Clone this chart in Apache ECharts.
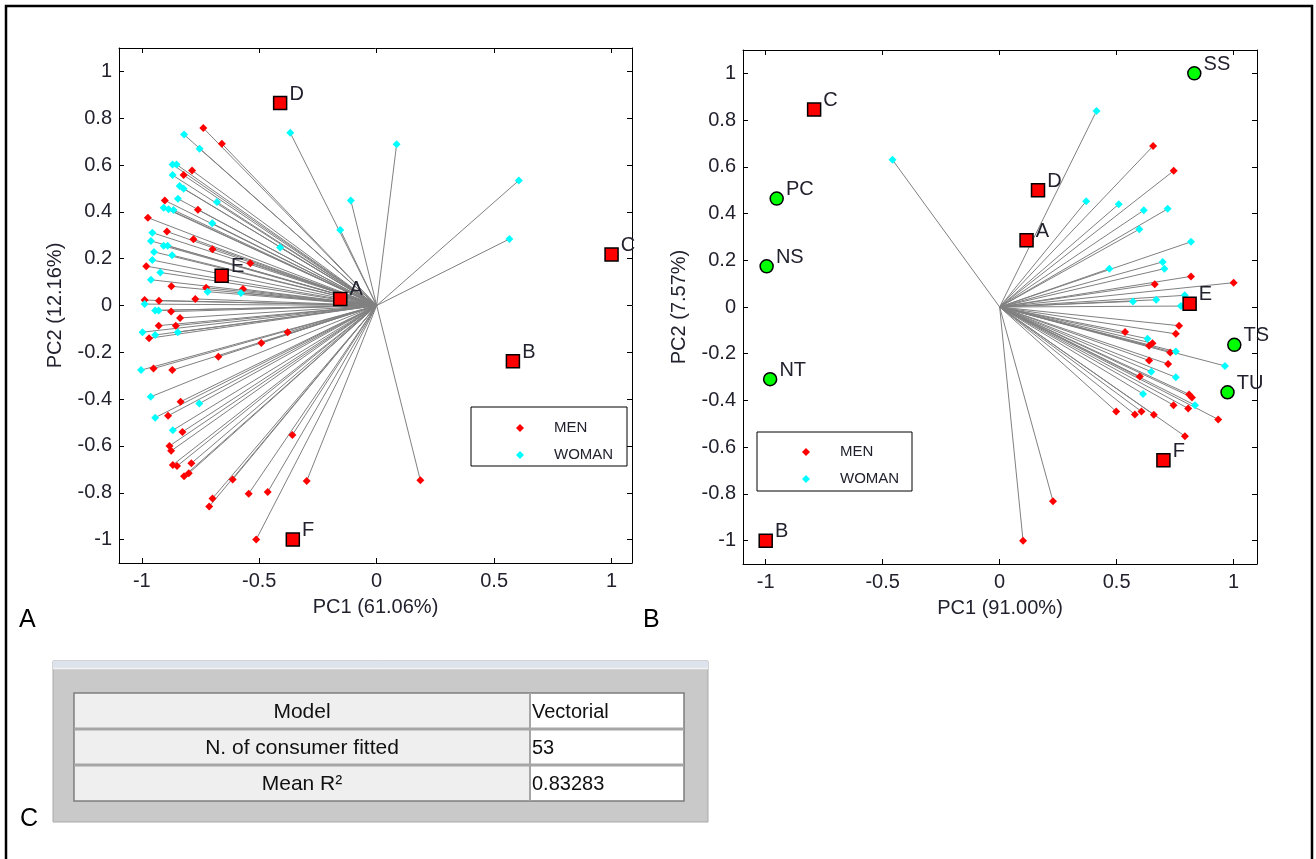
<!DOCTYPE html>
<html>
<head>
<meta charset="utf-8">
<script src="https://cdn.jsdelivr.net/npm/echarts@6/dist/echarts.min.js"></script>
<style>
  html, body { margin: 0; padding: 0; background: #ffffff; }
  #chart { width: 1316px; height: 859px; }
</style>
</head>
<body>
<div id="chart"></div>
<script>
// ---- tick labels ----
const tickX = [-1, -0.5, 0, 0.5, 1];
const tickY = [-1, -0.8, -0.6, -0.4, -0.2, 0, 0.2, 0.4, 0.6, 0.8, 1];

// ---- panel A: internal preference map ----
const productNames = ['A', 'B', 'C', 'D', 'E', 'F'];
const productsA = [[-0.155, 0.028], [0.58, -0.238], [1.0, 0.218], [-0.411, 0.865], [-0.66, 0.127], [-0.357, -1.0]];
const menA = [
  [-0.738, 0.758], [-0.659, 0.691], [-0.786, 0.577], [-0.822, 0.557], [-0.902, 0.449], [-0.761, 0.409],
  [-0.974, 0.375], [-0.893, 0.316], [-0.780, 0.283], [-0.699, 0.240], [-0.538, 0.181], [-0.981, 0.168],
  [-0.874, 0.082], [-0.726, 0.076], [-0.569, 0.070], [-0.988, 0.023], [-0.927, 0.020], [-0.772, 0.028],
  [-0.875, -0.026], [-0.837, -0.053], [-0.928, -0.086], [-0.855, -0.086], [-0.969, -0.140], [-0.379, -0.114],
  [-0.491, -0.160], [-0.674, -0.219], [-0.950, -0.269], [-0.870, -0.276], [-0.835, -0.411], [-0.888, -0.471],
  [-0.827, -0.540], [-0.359, -0.553], [-0.882, -0.600], [-0.875, -0.621], [-0.868, -0.681], [-0.850, -0.686],
  [-0.789, -0.674], [-0.820, -0.729], [-0.800, -0.717], [-0.613, -0.743], [-0.298, -0.750], [-0.699, -0.824],
  [-0.713, -0.859], [-0.545, -0.804], [-0.464, -0.797], [-0.513, -1.0], [0.186, -0.747]
];
const womanA = [
  [-0.820, 0.730], [-0.368, 0.738], [-0.754, 0.670], [-0.869, 0.602], [-0.852, 0.602], [-0.869, 0.557],
  [-0.839, 0.510], [-0.822, 0.499], [-0.846, 0.456], [-0.680, 0.442], [-0.907, 0.418], [-0.886, 0.411],
  [-0.865, 0.408], [-0.110, 0.449], [-0.700, 0.351], [-0.155, 0.323], [-0.955, 0.311], [-0.961, 0.276],
  [-0.907, 0.255], [-0.890, 0.255], [-0.411, 0.248], [-0.948, 0.229], [-0.871, 0.215], [-0.955, 0.194],
  [-0.921, 0.141], [-0.961, 0.110], [-0.720, 0.059], [-0.578, 0.053], [-0.988, 0.006],
  [-0.943, -0.021], [-0.928, -0.021], [-0.997, -0.114], [-0.943, -0.126], [-0.847, -0.114], [-1.003, -0.276],
  [-0.962, -0.390], [-0.755, -0.419], [-0.943, -0.479], [-0.868, -0.533],
  [0.085, 0.689], [0.605, 0.534], [0.565, 0.284]
];

// ---- panel B: map with sensory attributes ----
const productsB = [[0.115, 0.286], [-1.0, -1.0], [-0.793, 0.845], [0.164, 0.5], [0.812, 0.014], [0.70, -0.656]];
const attributeNames = ['SS', 'PC', 'NS', 'NT', 'TS', 'TU'];
const attributesB = [[0.832, 1.0], [-0.953, 0.464], [-0.996, 0.174], [-0.981, -0.309], [1.003, -0.162], [0.974, -0.365]];
const menB = [
  [0.656, 0.689], [0.744, 0.583], [0.818, 0.131], [0.663, 0.097], [1.0, 0.104],
  [0.767, -0.080], [0.753, -0.115], [0.536, -0.107], [0.653, -0.155], [0.639, -0.166], [0.729, -0.195],
  [0.639, -0.229], [0.720, -0.244], [0.599, -0.298], [0.810, -0.374], [0.822, -0.387], [0.743, -0.420],
  [0.806, -0.434], [0.498, -0.447], [0.578, -0.460], [0.606, -0.447], [0.659, -0.461], [0.934, -0.481],
  [0.792, -0.553], [0.228, -0.831], [0.100, -1.0]
];
const womanB = [
  [-0.458, 0.630], [0.414, 0.839], [0.370, 0.453], [0.509, 0.440], [0.616, 0.414], [0.718, 0.420],
  [0.597, 0.333], [0.818, 0.279], [0.469, 0.164], [0.697, 0.193], [0.704, 0.164], [0.791, 0.050],
  [0.669, 0.031], [0.570, 0.024], [0.775, 0.004], [0.632, -0.136], [0.753, -0.191], [0.963, -0.252],
  [0.648, -0.277], [0.753, -0.301], [0.613, -0.372], [0.835, -0.420]
];

// ---- axis titles, group names, summary table ----
const xTitles = ['PC1 (61.06%)', 'PC1 (91.00%)'];
const yTitles = ['PC2 (12.16%)', 'PC2 (7.57%)'];
const groupNames = ['MEN', 'WOMAN'];
const panelLetters = ['A', 'B', 'C'];
const tableRows = [['Model', 'Vectorial'], ['N. of consumer fitted', '53'], ['Mean R\u00B2', '0.83283']];

const FONT = "'Liberation Sans', Arial, sans-serif";
const INK = '#22222e';

const chart = echarts.init(document.getElementById('chart'), null, { renderer: 'canvas' });

const grids = [
  { left: 119, top: 48, width: 513, height: 515 },
  { left: 743, top: 50, width: 514, height: 514 }
];
const ranges = [
  { x: [-1.097, 1.087], y: [-1.1, 1.1] },
  { x: [-1.097, 1.1], y: [-1.1, 1.1] }
];

const xAxes = [], yAxes = [];
grids.forEach((g, i) => {
  const r = ranges[i];
  const tick = (vals) => ({ show: true, inside: true, length: 5, customValues: vals, lineStyle: { color: '#000', width: 1 } });
  const line = { show: true, onZero: false, lineStyle: { color: '#000', width: 1 } };
  xAxes.push({
    type: 'value', gridIndex: i, position: 'bottom', min: r.x[0], max: r.x[1],
    axisLine: line, axisTick: tick(tickX), splitLine: { show: false },
    axisLabel: { customValues: tickX, margin: 8, fontFamily: FONT, fontSize: 20, color: INK },
    name: xTitles[i], nameLocation: 'middle', nameGap: 34,
    nameTextStyle: { fontFamily: FONT, fontSize: 20, color: INK }
  });
  xAxes.push({
    type: 'value', gridIndex: i, position: 'top', min: r.x[0], max: r.x[1],
    axisLine: line, axisTick: tick(tickX), splitLine: { show: false }, axisLabel: { show: false }
  });
  yAxes.push({
    type: 'value', gridIndex: i, position: 'left', min: r.y[0], max: r.y[1],
    axisLine: line, axisTick: tick(tickY), splitLine: { show: false },
    axisLabel: { customValues: tickY, margin: 7, fontFamily: FONT, fontSize: 20, color: INK },
    name: yTitles[i], nameLocation: 'middle', nameGap: 54,
    nameTextStyle: { fontFamily: FONT, fontSize: 20, color: INK }
  });
  yAxes.push({
    type: 'value', gridIndex: i, position: 'right', min: r.y[0], max: r.y[1],
    axisLine: line, axisTick: tick(tickY), splitLine: { show: false }, axisLabel: { show: false }
  });
});

// consumer vectors from the origin
function spokes(points) {
  return points.map(p => ({ coords: [[0, 0], p] }));
}
function named(names, points) {
  return points.map((p, k) => ({ name: names[k], value: p }));
}
const markLabel = {
  show: true, position: 'right', distance: 2, offset: [0, -9],
  formatter: '{b}', fontFamily: FONT, fontSize: 20, color: INK
};

const series = [];
[[menA, womanA, productsA, null], [menB, womanB, productsB, attributesB]].forEach((set, i) => {
  const axes = { xAxisIndex: i * 2, yAxisIndex: i * 2 };
  series.push(Object.assign({
    type: 'lines', coordinateSystem: 'cartesian2d', silent: true, z: 2,
    data: spokes(set[0].concat(set[1])),
    lineStyle: { color: '#808080', width: 1, opacity: 1 }
  }, axes));
  series.push(Object.assign({
    type: 'scatter', name: groupNames[0], symbol: 'diamond', symbolSize: 8, z: 3,
    itemStyle: { color: '#ff0000', opacity: 1 }, data: set[0]
  }, axes));
  series.push(Object.assign({
    type: 'scatter', name: groupNames[1], symbol: 'diamond', symbolSize: 8, z: 3,
    itemStyle: { color: '#00ffff', opacity: 1 }, data: set[1]
  }, axes));
  series.push(Object.assign({
    type: 'scatter', name: 'products', symbol: 'rect', symbolSize: 13, z: 4,
    itemStyle: { color: '#ff0000', borderColor: '#000', borderWidth: 1.5, opacity: 1 },
    label: markLabel, data: named(productNames, set[2])
  }, axes));
  if (set[3]) {
    series.push(Object.assign({
      type: 'scatter', name: 'attributes', symbol: 'circle', symbolSize: 13, z: 4,
      itemStyle: { color: '#00ff00', borderColor: '#000', borderWidth: 1.5, opacity: 1 },
      label: markLabel, data: named(attributeNames, set[3])
    }, axes));
  }
});

const legendBase = {
  data: groupNames, orient: 'vertical', icon: 'diamond', itemWidth: 8, itemHeight: 8,
  itemGap: 11, selectedMode: false, z: 6,
  textStyle: { fontFamily: FONT, fontSize: 15, color: INK, lineHeight: 16, padding: [0, 0, 0, 25] }
};

// frames, legend boxes, panel letters and the fit summary table
const graphics = [
  { type: 'rect', silent: true, z: 0, shape: { x: 6, y: 6, width: 1306, height: 870 },
    style: { fill: null, stroke: '#000', lineWidth: 2.5 } },
  { type: 'rect', silent: true, z: 5, shape: { x: 471, y: 407, width: 156, height: 59 },
    style: { fill: '#fff', stroke: '#000', lineWidth: 1 } },
  { type: 'rect', silent: true, z: 5, shape: { x: 757, y: 432, width: 155, height: 59 },
    style: { fill: '#fff', stroke: '#000', lineWidth: 1 } },
  { type: 'text', silent: true, x: 19, y: 620, style: { text: panelLetters[0], font: '25px ' + FONT, fill: '#000', verticalAlign: 'middle' } },
  { type: 'text', silent: true, x: 643, y: 620, style: { text: panelLetters[1], font: '25px ' + FONT, fill: '#000', verticalAlign: 'middle' } },
  { type: 'text', silent: true, x: 20, y: 819, style: { text: panelLetters[2], font: '25px ' + FONT, fill: '#000', verticalAlign: 'middle' } },
  // window panel
  { type: 'rect', silent: true, shape: { x: 53, y: 661, width: 655, height: 161 },
    style: { fill: '#c9c9c9', stroke: '#a9a9a9', lineWidth: 1 } },
  { type: 'rect', silent: true, shape: { x: 53, y: 661, width: 655, height: 7 },
    style: { fill: '#dce3ed' } },
  { type: 'line', silent: true, shape: { x1: 53, y1: 668.5, x2: 708, y2: 668.5 },
    style: { stroke: '#f2f2f2', lineWidth: 1.5 } },
  { type: 'rect', silent: true, shape: { x: 74, y: 693, width: 610, height: 108 },
    style: { fill: '#ffffff', stroke: '#7c7c7c', lineWidth: 1.5 } }
];
const rowH = 36;
tableRows.forEach((row, k) => {
  const y0 = 693 + k * rowH;
  graphics.push({ type: 'rect', silent: true, shape: { x: 75, y: y0 + 1, width: 455, height: rowH - 2 },
    style: { fill: '#efefef' } });
  if (k > 0) {
    graphics.push({ type: 'line', silent: true, shape: { x1: 74, y1: y0, x2: 684, y2: y0 },
      style: { stroke: '#a6a6a6', lineWidth: 3 } });
  }
  graphics.push({ type: 'text', silent: true, x: 302, y: y0 + rowH / 2 + 1,
    style: { text: row[0], font: '21px ' + FONT, fill: '#111', align: 'center', verticalAlign: 'middle' } });
  graphics.push({ type: 'text', silent: true, x: 532, y: y0 + rowH / 2 + 1,
    style: { text: row[1], font: '20px ' + FONT, fill: '#111', align: 'left', verticalAlign: 'middle' } });
});
graphics.push({ type: 'line', silent: true, shape: { x1: 530, y1: 693, x2: 530, y2: 801 },
  style: { stroke: '#a6a6a6', lineWidth: 2 } });

chart.setOption({
  animation: false,
  backgroundColor: '#ffffff',
  grid: grids,
  xAxis: xAxes,
  yAxis: yAxes,
  legend: [
    Object.assign({ left: 511, top: 415 }, legendBase),
    Object.assign({ left: 797, top: 439 }, legendBase)
  ],
  series: series,
  graphic: graphics
});
</script>
</body>
</html>
